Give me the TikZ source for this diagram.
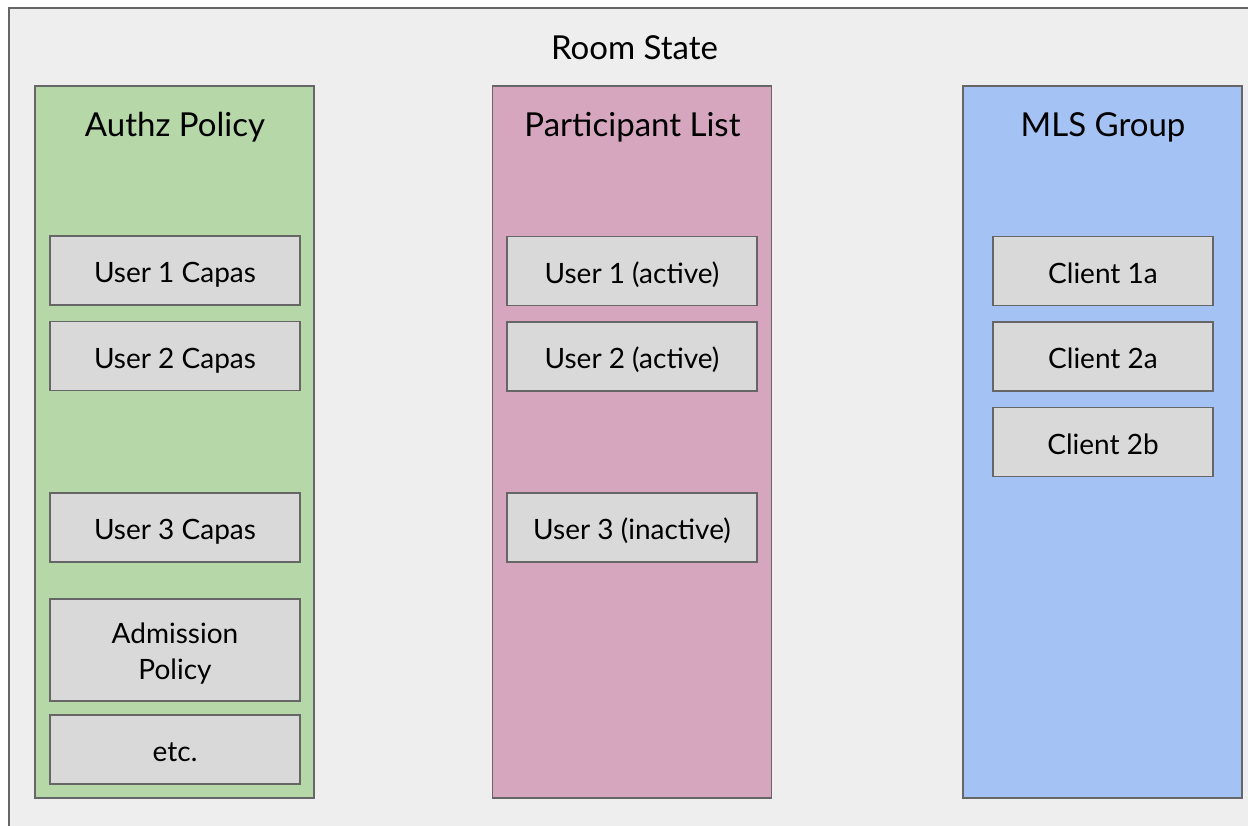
\documentclass[tikz,border=0pt]{standalone}
\usepackage{fontspec}
\setmainfont{Lato}
\definecolor{bgc}{HTML}{EEEEEE}
\definecolor{edgec}{HTML}{666666}
\definecolor{greenc}{HTML}{B6D7A8}
\definecolor{pinkc}{HTML}{D5A6BD}
\definecolor{bluec}{HTML}{A4C2F4}
\definecolor{boxc}{HTML}{D9D9D9}
\begin{document}
\begin{tikzpicture}[x=1pt,y=-1pt,
  col/.style={draw=edgec, line width=1.6pt, rectangle, inner sep=0pt, minimum width=279pt, minimum height=712pt},
  boxfont/.style={font=\fontsize{28}{36}\selectfont},
  inbox/.style={draw=edgec, line width=1.6pt, fill=boxc, rectangle, inner sep=0pt, minimum height=69pt, boxfont, text height=24pt, text depth=0pt},
  ttl/.style={font=\fontsize{33}{40}\selectfont, inner sep=0pt}]
\useasboundingbox (0,0) rectangle (1248,825);
\begin{scope}
\clip (0,0) rectangle (1248,825);
\fill[white] (0,0) rectangle (1248,825);
\draw[draw=edgec, line width=1.6pt, fill=bgc] (9,8) rectangle (1260,850);
\end{scope}
\node[ttl] (room) at (634.5,48) {Room State};
% columns
\node[col, fill=greenc] (authz) at (174.5,442) {};
\node[col, fill=pinkc] (plist) at (632,442) {};
\node[col, fill=bluec] (mls) at (1102.5,442) {};
\node[ttl] (authzt) at (175,127) {Authz Policy};
\node[ttl] (plistt) at (632.5,127) {Participant List};
\node[ttl] (mlst) at (1103,127) {MLS Group};
% authz boxes
\node[inbox, minimum width=250pt] (u1c) at (175,270.5) {User 1 Capas};
\node[inbox, minimum width=250pt] (u2c) at (175,356) {User 2 Capas};
\node[inbox, minimum width=250pt] (u3c) at (175,527.5) {User 3 Capas};
\node[inbox, minimum width=250pt, minimum height=102pt] (adm) at (175,650) {};
\node[boxfont, align=center, inner sep=0pt] (admt) at (175,654) {Admission\\[0pt]Policy};
\node[inbox, minimum width=250pt] (etc) at (175,749.5) {etc.};
% participant boxes
\node[inbox, minimum width=250pt] (u1a) at (632,271) {User 1 (active)};
\node[inbox, minimum width=250pt] (u2a) at (632,356.5) {User 2 (active)};
\node[inbox, minimum width=250pt] (u3i) at (632,527.5) {User 3 (inactive)};
% mls boxes
\node[inbox, minimum width=220pt] (c1a) at (1103,271) {Client 1a};
\node[inbox, minimum width=220pt] (c2a) at (1103,356.5) {Client 2a};
\node[inbox, minimum width=220pt] (c2b) at (1103,442) {Client 2b};
\end{tikzpicture}
\end{document}
